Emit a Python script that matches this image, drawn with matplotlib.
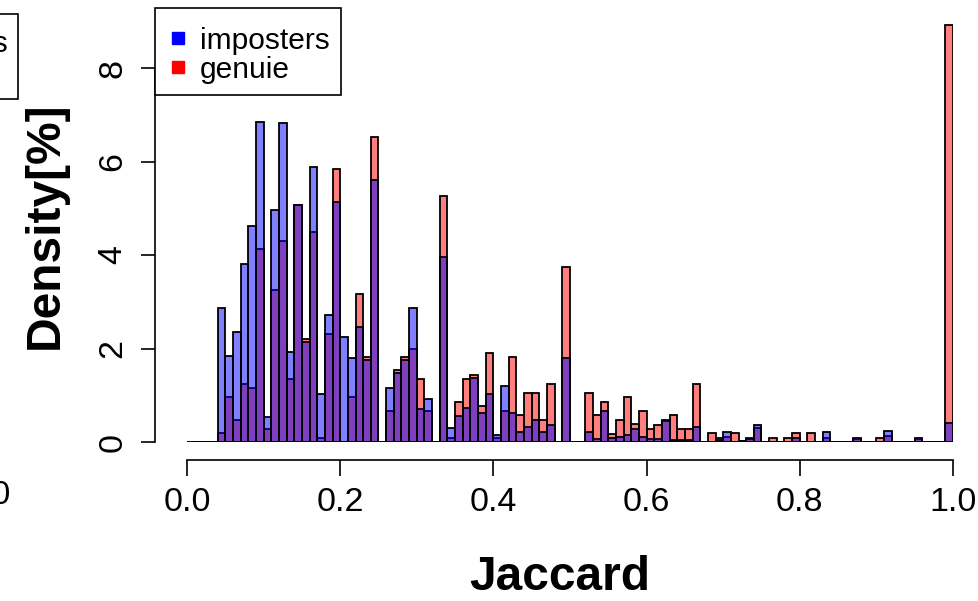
import numpy as np
import matplotlib
matplotlib.use('Agg')
import matplotlib.pyplot as plt
from matplotlib.patches import Rectangle
from matplotlib.lines import Line2D

plt.rcParams['font.family'] = ['Liberation Sans', 'DejaVu Sans']

#%% Data: histogram density [%] per Jaccard bin (width 0.01, 0.00 .. 1.00)
bin_edges = np.linspace(0.0, 1.0, 101)

imposters = [0, 0, 0, 0, 2.87, 1.83, 2.36, 3.81, 4.62, 6.84,
             0.54, 4.96, 6.82, 1.93, 5.08, 2.13, 5.88, 1.03, 2.71, 5.13,
             2.25, 1.79, 2.46, 1.75, 5.60, 0, 1.16, 1.47, 1.76, 2.87,
             0.71, 0.92, 0, 3.95, 0.29, 0.56, 0.73, 1.36, 0.63, 1.02,
             0.15, 1.20, 0.63, 0.21, 0.33, 0.48, 0.21, 0.37, 0, 1.79,
             0, 0, 0.22, 0.06, 0.67, 0.08, 0.10, 0.16, 0.27, 0.11,
             0.06, 0.06, 0.47, 0.04, 0.04, 0.04, 0.33, 0, 0, 0.05,
             0.21, 0, 0.02, 0.06, 0.36, 0, 0, 0, 0, 0.09,
             0, 0, 0, 0.21, 0, 0, 0, 0.09, 0, 0,
             0, 0.24, 0, 0, 0, 0.09, 0, 0, 0, 0.40]

genuie = [0, 0, 0, 0, 0.19, 0.96, 0.47, 1.24, 1.15, 4.12,
          0.28, 3.25, 4.31, 1.34, 5.06, 2.20, 4.50, 0.08, 2.30, 5.84,
          0, 0.96, 3.17, 1.81, 6.52, 0, 0.66, 1.53, 1.82, 2.00,
          1.34, 0.67, 0, 5.27, 0.09, 0.86, 1.34, 1.44, 0.76, 1.91,
          0.09, 0.66, 1.82, 0.57, 1.05, 1.05, 0.48, 1.25, 0, 3.74,
          0, 0, 1.05, 0.57, 0.86, 0.18, 0.48, 0.96, 0.38, 0.67,
          0.28, 0.37, 0.45, 0.57, 0.28, 0.28, 1.24, 0, 0.19, 0.09,
          0.10, 0.19, 0.02, 0.09, 0.30, 0, 0.09, 0, 0.09, 0.19,
          0, 0.19, 0, 0.09, 0, 0, 0, 0.07, 0, 0,
          0.09, 0.13, 0, 0, 0, 0.07, 0, 0, 0, 8.92]

y_ticks = [0, 2, 4, 6, 8]
x_ticks = [0.0, 0.2, 0.4, 0.6, 0.8, 1.0]
x_tick_labels = ['0.0', '0.2', '0.4', '0.6', '0.8', '1.0']

W, H = 979, 601

#%% Plot
fig = plt.figure(figsize=(W / 100, H / 100), dpi=100)
ax = fig.add_axes([187 / W, (H - 442) / H, 766 / W, 442 / H])

ax.bar(bin_edges[:-1], genuie, width=0.01, align='edge',
       color=(1, 0, 0, 0.5), edgecolor='black', linewidth=1.3)
ax.bar(bin_edges[:-1], imposters, width=0.01, align='edge',
       color=(0, 0, 1, 0.5), edgecolor='black', linewidth=1.3)

ax.set_xlim(0, 1)
ax.set_ylim(0, 442 / 46.75)

# R style axes
for s in ['top', 'right']:
    ax.spines[s].set_visible(False)
ax.spines['left'].set_position(('outward', 23))
ax.spines['bottom'].set_position(('outward', 13))
ax.spines['left'].set_bounds(0, 8)
ax.spines['bottom'].set_bounds(0, 1)
for s in ['left', 'bottom']:
    ax.spines[s].set_linewidth(1.2)

ax.set_yticks(y_ticks)
ax.set_yticklabels([str(t) for t in y_ticks], rotation=90, va='center')
ax.set_xticks(x_ticks)
ax.set_xticklabels(x_tick_labels)
ax.tick_params(axis='y', length=10, width=1.2, pad=9, labelsize=24.5)
ax.tick_params(axis='x', length=11.5, width=1.2, pad=8, labelsize=24.5)

fig.text(560 / W, 1 - 578 / H, 'Jaccard', fontsize=34.5, fontweight='bold',
         ha='center', va='center')
fig.text(45 / W, 1 - 225 / H, 'Density[%]', fontsize=34.5, fontweight='bold',
         ha='center', va='center', rotation=90)

# legend box
fig.add_artist(Rectangle((155 / W, 1 - 95 / H), 186 / W, 87 / H,
                         transform=fig.transFigure, facecolor='white',
                         edgecolor='black', linewidth=1.2))
for yy, col, lbl in [(38, 'blue', 'imposters'), (67, 'red', 'genuie')]:
    fig.add_artist(Line2D([178 / W], [1 - yy / H], marker='s', markersize=8,
                          color=col, linestyle='none',
                          transform=fig.transFigure))
    fig.text(200 / W, 1 - yy / H, lbl, fontsize=21.5, ha='left',
             va='center_baseline')

# bits of the neighbouring panel on the left
fig.add_artist(Rectangle((-20 / W, 1 - 99 / H), 38 / W, 85 / H,
                         transform=fig.transFigure, facecolor='white',
                         edgecolor='black', linewidth=1.2))
fig.text(8 / W, 1 - 41 / H, 'imposters', fontsize=21.5, ha='right',
         va='center_baseline')
fig.text(11 / W, 1 - 495 / H, '1.0', fontsize=24.5, ha='right', va='center')

fig.savefig('out.png', dpi=100)
